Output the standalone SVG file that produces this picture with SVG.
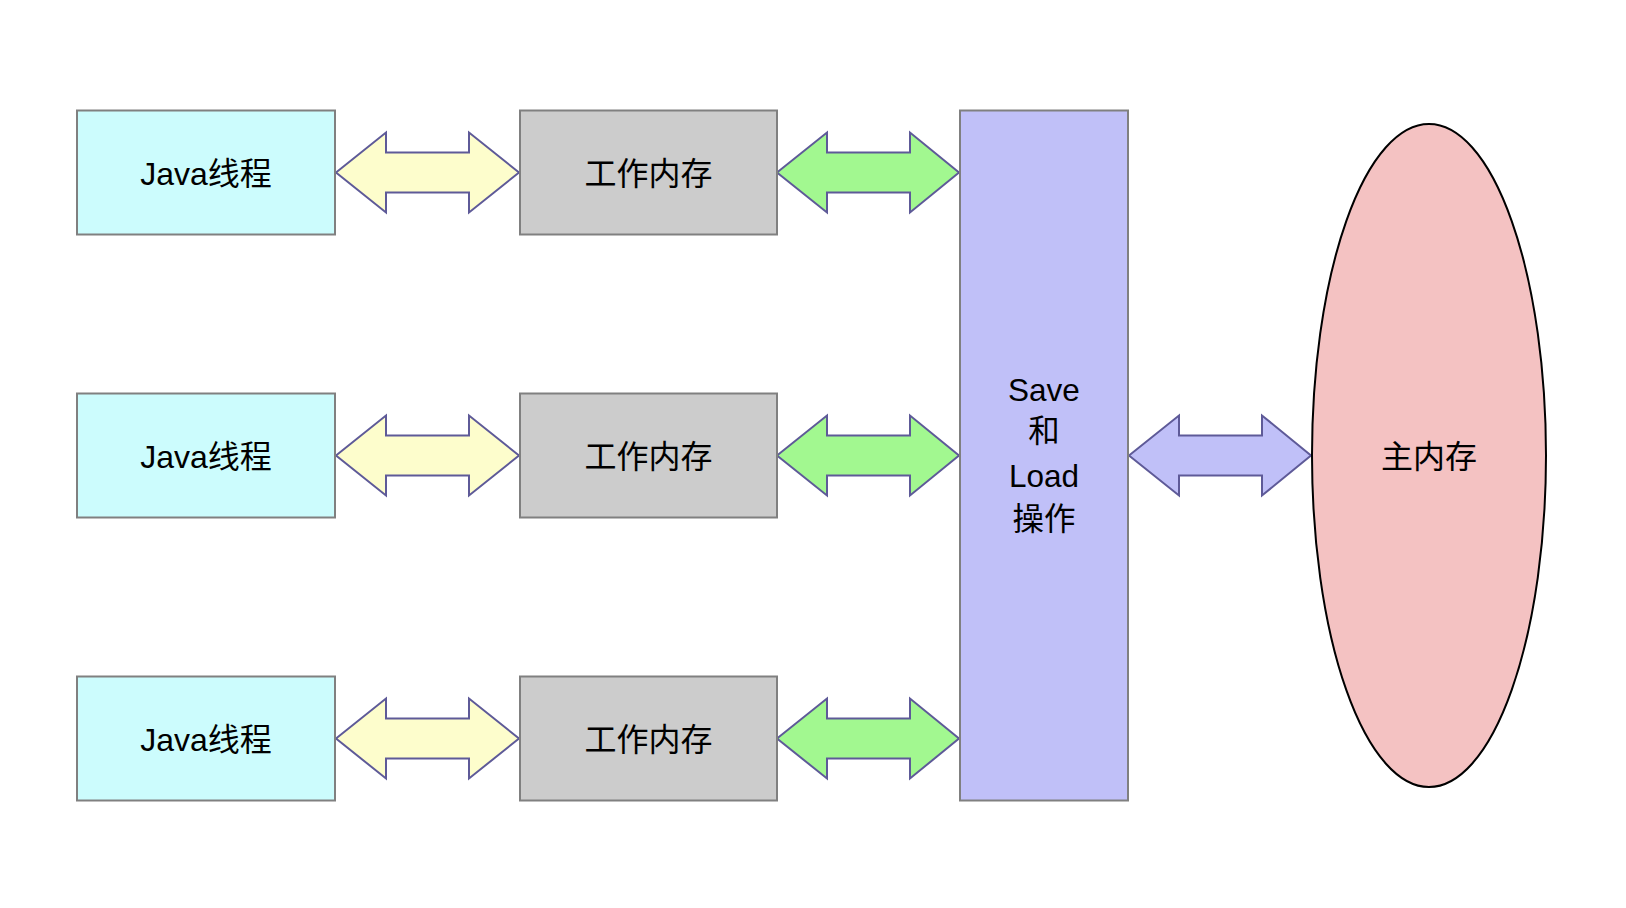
<svg xmlns="http://www.w3.org/2000/svg" width="1626" height="908" viewBox="0 0 1626 908">
<style>
.box{stroke:#808080;stroke-width:2}
.java{fill:#CCFCFD}
.work{fill:#CCCCCC}
.sl{fill:#C0C0F8}
.arr{stroke:#5E5A98;stroke-width:2;stroke-linejoin:miter}
.y{fill:#FDFDCC}
.g{fill:#A2F890}
.p{fill:#C0C0F8}
text{font-family:"Liberation Sans","Noto Sans CJK SC",sans-serif;fill:#000;text-anchor:middle}
.t{font-size:32px}
.s{font-size:31.5px}
</style>
<defs>
<path id="a1" d="M0,0 L50,-40 L50,-20 L133,-20 L133,-40 L183,0 L133,40 L133,20 L50,20 L50,40 Z"/>
<path id="a2" d="M0,0 L50,-40 L50,-20 L133,-20 L133,-40 L182,0 L133,40 L133,20 L50,20 L50,40 Z"/>
</defs>
<rect width="1626" height="908" fill="#fff"/>
<g id="connectors">
<use href="#a1" class="arr y" transform="translate(336,172.5)"/>
<use href="#a1" class="arr y" transform="translate(336,455.5)"/>
<use href="#a1" class="arr y" transform="translate(336,738.5)"/>
<use href="#a2" class="arr g" transform="translate(777,172.5)"/>
<use href="#a2" class="arr g" transform="translate(777,455.5)"/>
<use href="#a2" class="arr g" transform="translate(777,738.5)"/>
<use href="#a2" class="arr p" transform="translate(1129,455.5)"/>
</g>
<g id="java1"><rect class="box java" x="77" y="110.5" width="258" height="124"/><text class="t" x="206" y="184.5">Java线程</text></g>
<g id="java2"><rect class="box java" x="77" y="393.5" width="258" height="124"/><text class="t" x="206" y="467.5">Java线程</text></g>
<g id="java3"><rect class="box java" x="77" y="676.5" width="258" height="124"/><text class="t" x="206" y="750.5">Java线程</text></g>
<g id="work1"><rect class="box work" x="520" y="110.5" width="257" height="124"/><text class="t" x="648.5" y="184.5">工作内存</text></g>
<g id="work2"><rect class="box work" x="520" y="393.5" width="257" height="124"/><text class="t" x="648.5" y="467.5">工作内存</text></g>
<g id="work3"><rect class="box work" x="520" y="676.5" width="257" height="124"/><text class="t" x="648.5" y="750.5">工作内存</text></g>
<g id="saveload"><rect class="box sl" x="960" y="110.5" width="168" height="690"/>
<text class="s" x="1044" y="400.5">Save</text>
<text class="s" x="1044" y="442">和</text>
<text class="s" x="1044" y="486.5">Load</text>
<text class="s" x="1044" y="530">操作</text>
</g>
<g id="main"><ellipse cx="1429" cy="455.5" rx="117" ry="331.5" fill="#F4C2C2" stroke="#000" stroke-width="2"/><text class="t" x="1429" y="467.5">主内存</text></g>
</svg>
